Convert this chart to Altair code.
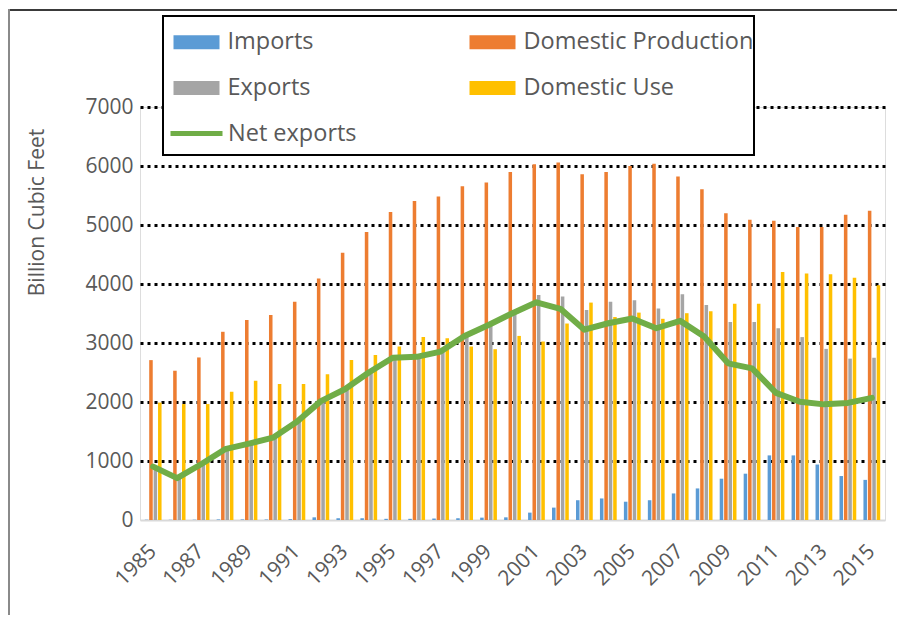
import altair as alt
import pandas as pd

years = list(range(1985, 2016))
imports = [5, 5, 5, 10, 10, 10, 15, 45, 30, 30, 20, 20, 25, 30, 40, 45,
           125, 210, 335, 365, 310, 335, 450, 535, 700, 785, 1095, 1095, 940, 745, 680]
production = [2710, 2530, 2755, 3190, 3390, 3475, 3700, 4095, 4530, 4880, 5220,
              5405, 5485, 5655, 5720, 5900, 6030, 6060, 5860, 5900, 6000, 6040,
              5820, 5605, 5200, 5090, 5070, 4965, 4965, 5175, 5240]
exports = [910, 715, 950, 1210, 1305, 1405, 1680, 2060, 2245, 2530, 2770, 2785,
           2880, 3150, 3345, 3550, 3814, 3790, 3560, 3700, 3725, 3585, 3825, 3645,
           3355, 3355, 3250, 3100, 2900, 2735, 2750]
domestic_use = [1990, 1965, 1965, 2175, 2360, 2305, 2305, 2470, 2710, 2795, 2940,
                3100, 3080, 2940, 2895, 3120, 3025, 3330, 3685, 3440, 3515, 3410,
                3505, 3540, 3665, 3665, 4205, 4180, 4165, 4105, 3980]
net_exports = [905, 710, 945, 1200, 1295, 1395, 1665, 2015, 2215, 2500, 2750, 2765,
               2855, 3120, 3305, 3505, 3690, 3580, 3225, 3335, 3415, 3250, 3375, 3110,
               2655, 2570, 2155, 2005, 1960, 1985, 2070]

bar_series = ["Imports", "Domestic Production", "Exports", "Domestic Use"]
bar_colors = ["#5B9BD5", "#ED7D31", "#A5A5A5", "#FFC000"]
line_series = ["Net exports"]
line_colors = ["#70AD47"]
y_ticks = [0, 1000, 2000, 3000, 4000, 5000, 6000, 7000]
x_label_years = [str(y) for y in years if y % 2 == 1]

rows = []
for i, yr in enumerate(years):
    for name, vals in zip(bar_series, [imports, production, exports, domestic_use]):
        rows.append({"year": str(yr), "series": name, "value": vals[i]})
bars_df = pd.DataFrame(rows)
line_df = pd.DataFrame({"year": [str(y) for y in years],
                        "series": line_series * len(years),
                        "value": net_exports})

TEXT = "#595959"
FONT = "Open Sans"

common_legend = dict(
    title=None, orient="none", labelFont=FONT, labelFontSize=23.5, labelColor=TEXT,
    labelLimit=400, padding=0,
)

bar_legend = alt.Legend(
    legendX=33.5, legendY=-88, columns=2, direction="horizontal",
    symbolType="M-1,-0.3H1V0.3H-1Z", symbolStrokeWidth=0, symbolSize=2116,
    labelOffset=8, columnPadding=155, rowPadding=11,
    **common_legend,
)
line_legend = alt.Legend(
    legendX=28, legendY=-2, symbolType="stroke", symbolStrokeWidth=5,
    symbolSize=2704, labelOffset=3,
    **common_legend,
)

x_enc = alt.X("year:O",
              scale=alt.Scale(paddingInner=0.3, paddingOuter=0.2),
              axis=alt.Axis(values=x_label_years, labelAngle=315, labelAlign="right",
                            labelBaseline="middle", labelPadding=28, ticks=False,
                            domainColor="#D9D9D9", domainWidth=2, labelFontSize=21,
                            labelColor=TEXT, labelFont=FONT, grid=False),
              title=None)
y_enc = alt.Y("value:Q",
              scale=alt.Scale(domain=[0, 7000], nice=False),
              axis=alt.Axis(values=y_ticks, format="d", title="Billion Cubic Feet",
                            titleFont=FONT, titleFontSize=21, titleFontWeight="normal",
                            titleColor=TEXT, titleAngle=270, titleAlign="center",
                            titleBaseline="bottom", titleX=-93, titleY=105,
                            labelFontSize=21, labelColor=TEXT, labelFont=FONT,
                            labelPadding=7, ticks=False, domain=False, grid=True,
                            gridColor=alt.condition("datum.value === 0",
                                                    alt.value("transparent"),
                                                    alt.value("black")),
                            gridDash=[3, 4], gridWidth=3))

bars = alt.Chart(bars_df).mark_bar().encode(
    x=x_enc,
    xOffset=alt.XOffset("series:N", sort=bar_series,
                        scale=alt.Scale(domain=bar_series, paddingInner=0.2)),
    y=y_enc,
    color=alt.Color("series:N", scale=alt.Scale(domain=bar_series, range=bar_colors),
                    sort=bar_series, legend=bar_legend),
)

line = alt.Chart(line_df).mark_line(strokeWidth=6, strokeJoin="round",
                                    strokeCap="round").encode(
    x=x_enc, y=y_enc,
    stroke=alt.Stroke("series:N", scale=alt.Scale(domain=line_series, range=line_colors),
                      legend=line_legend),
)

legend_box = alt.Chart(alt.Data(values=[{}])).mark_rect(
    fill="white", stroke="black", strokeWidth=2).encode(
    x=alt.value(23), x2=alt.value(614), y=alt.value(-91), y2=alt.value(48))

top_border = alt.Chart(alt.Data(values=[{}])).mark_rule(
    color="#3a3a3a", strokeWidth=2).encode(
    x=alt.value(-133), x2=alt.value(757), y=alt.value(-97))
left_border = alt.Chart(alt.Data(values=[{}])).mark_rule(
    color="#8a8a8a", strokeWidth=2).encode(
    x=alt.value(-131), y=alt.value(-98), y2=alt.value(508))

chart = alt.layer(bars, line, legend_box, top_border, left_border).resolve_scale(
    color="independent", stroke="independent"
).properties(
    width=745, height=413,
    autosize=alt.AutoSizeParams(type="none"),
    padding={"left": 132, "top": 99, "right": 12, "bottom": 95},
).configure_view(stroke=None).configure(font=FONT)

chart.save("out.html", embed_options={"renderer": "svg", "actions": False})
